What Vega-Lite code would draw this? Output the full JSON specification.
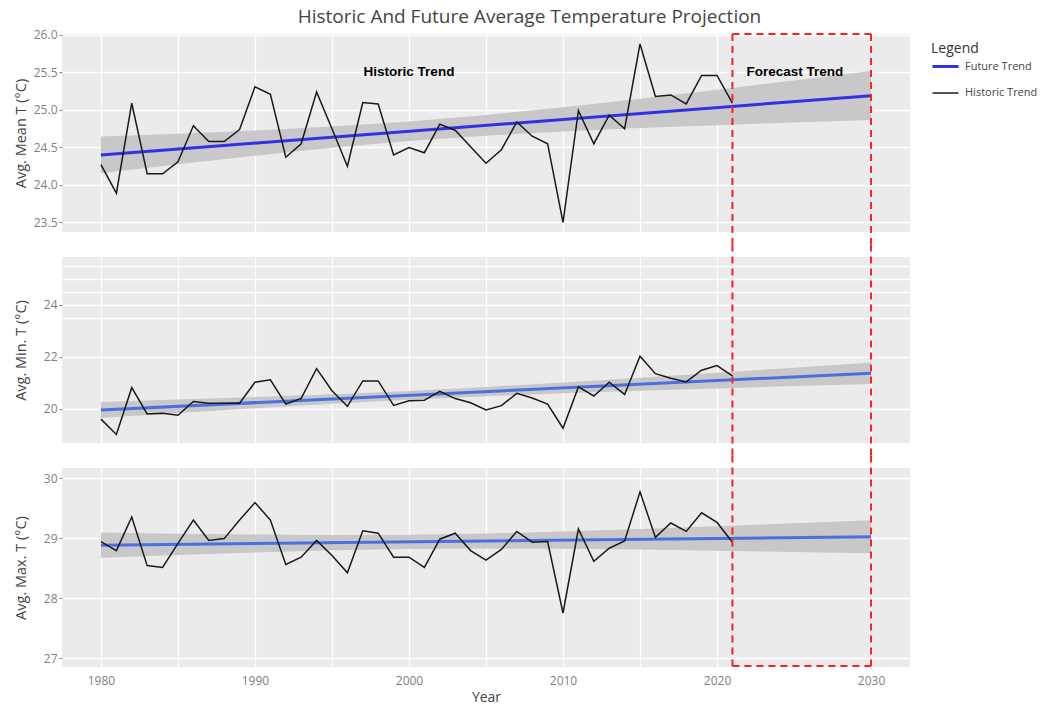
{
  "$schema": "https://vega.github.io/schema/vega-lite/v6.json",
  "padding": {"left": 13, "top": 7, "right": 10, "bottom": 0},
  "title": {"text": "Historic And Future Average Temperature Projection", "fontSize": 19, "font": "Open Sans", "fontWeight": "normal", "color": "#444444", "anchor": "middle", "frame": "bounds", "offset": 2},
  "spacing": 25,
  "bounds": "flush",
  "datasets": {
    "hist": [
      {"year": 1980, "mean": 24.27, "tmin": 19.61, "tmax": 28.94, "series": "Historic Trend"},
      {"year": 1981, "mean": 23.89, "tmin": 19.02, "tmax": 28.79, "series": "Historic Trend"},
      {"year": 1982, "mean": 25.09, "tmin": 20.82, "tmax": 29.35, "series": "Historic Trend"},
      {"year": 1983, "mean": 24.15, "tmin": 19.81, "tmax": 28.54, "series": "Historic Trend"},
      {"year": 1984, "mean": 24.15, "tmin": 19.84, "tmax": 28.51, "series": "Historic Trend"},
      {"year": 1985, "mean": 24.31, "tmin": 19.76, "tmax": 28.91, "series": "Historic Trend"},
      {"year": 1986, "mean": 24.79, "tmin": 20.29, "tmax": 29.30, "series": "Historic Trend"},
      {"year": 1987, "mean": 24.58, "tmin": 20.22, "tmax": 28.96, "series": "Historic Trend"},
      {"year": 1988, "mean": 24.58, "tmin": 20.22, "tmax": 28.99, "series": "Historic Trend"},
      {"year": 1989, "mean": 24.74, "tmin": 20.22, "tmax": 29.30, "series": "Historic Trend"},
      {"year": 1990, "mean": 25.31, "tmin": 21.03, "tmax": 29.59, "series": "Historic Trend"},
      {"year": 1991, "mean": 25.21, "tmin": 21.12, "tmax": 29.30, "series": "Historic Trend"},
      {"year": 1992, "mean": 24.37, "tmin": 20.19, "tmax": 28.56, "series": "Historic Trend"},
      {"year": 1993, "mean": 24.55, "tmin": 20.41, "tmax": 28.68, "series": "Historic Trend"},
      {"year": 1994, "mean": 25.24, "tmin": 21.55, "tmax": 28.96, "series": "Historic Trend"},
      {"year": 1995, "mean": 24.75, "tmin": 20.70, "tmax": 28.71, "series": "Historic Trend"},
      {"year": 1996, "mean": 24.25, "tmin": 20.10, "tmax": 28.42, "series": "Historic Trend"},
      {"year": 1997, "mean": 25.10, "tmin": 21.08, "tmax": 29.12, "series": "Historic Trend"},
      {"year": 1998, "mean": 25.08, "tmin": 21.08, "tmax": 29.08, "series": "Historic Trend"},
      {"year": 1999, "mean": 24.40, "tmin": 20.14, "tmax": 28.68, "series": "Historic Trend"},
      {"year": 2000, "mean": 24.50, "tmin": 20.32, "tmax": 28.68, "series": "Historic Trend"},
      {"year": 2001, "mean": 24.43, "tmin": 20.34, "tmax": 28.51, "series": "Historic Trend"},
      {"year": 2002, "mean": 24.81, "tmin": 20.68, "tmax": 28.98, "series": "Historic Trend"},
      {"year": 2003, "mean": 24.73, "tmin": 20.40, "tmax": 29.08, "series": "Historic Trend"},
      {"year": 2004, "mean": 24.51, "tmin": 20.24, "tmax": 28.79, "series": "Historic Trend"},
      {"year": 2005, "mean": 24.29, "tmin": 19.96, "tmax": 28.63, "series": "Historic Trend"},
      {"year": 2006, "mean": 24.47, "tmin": 20.13, "tmax": 28.81, "series": "Historic Trend"},
      {"year": 2007, "mean": 24.84, "tmin": 20.60, "tmax": 29.11, "series": "Historic Trend"},
      {"year": 2008, "mean": 24.65, "tmin": 20.42, "tmax": 28.93, "series": "Historic Trend"},
      {"year": 2009, "mean": 24.55, "tmin": 20.19, "tmax": 28.94, "series": "Historic Trend"},
      {"year": 2010, "mean": 23.50, "tmin": 19.26, "tmax": 27.75, "series": "Historic Trend"},
      {"year": 2011, "mean": 24.99, "tmin": 20.85, "tmax": 29.15, "series": "Historic Trend"},
      {"year": 2012, "mean": 24.55, "tmin": 20.50, "tmax": 28.61, "series": "Historic Trend"},
      {"year": 2013, "mean": 24.93, "tmin": 21.03, "tmax": 28.83, "series": "Historic Trend"},
      {"year": 2014, "mean": 24.75, "tmin": 20.56, "tmax": 28.95, "series": "Historic Trend"},
      {"year": 2015, "mean": 25.88, "tmin": 22.03, "tmax": 29.77, "series": "Historic Trend"},
      {"year": 2016, "mean": 25.18, "tmin": 21.36, "tmax": 29.01, "series": "Historic Trend"},
      {"year": 2017, "mean": 25.20, "tmin": 21.18, "tmax": 29.25, "series": "Historic Trend"},
      {"year": 2018, "mean": 25.08, "tmin": 21.04, "tmax": 29.11, "series": "Historic Trend"},
      {"year": 2019, "mean": 25.46, "tmin": 21.49, "tmax": 29.42, "series": "Historic Trend"},
      {"year": 2020, "mean": 25.46, "tmin": 21.67, "tmax": 29.26, "series": "Historic Trend"},
      {"year": 2021, "mean": 25.09, "tmin": 21.27, "tmax": 28.93, "series": "Historic Trend"}
    ],
    "trend": [
      {"year": 1980, "mean": 24.40, "tmin": 19.96, "tmax": 28.88, "series": "Future Trend"},
      {"year": 2030, "mean": 25.19, "tmin": 21.375, "tmax": 29.02, "series": "Future Trend"}
    ],
    "band": [
      {"year": 1980, "mean_lo": 24.155, "mean_hi": 24.645, "min_lo": 19.65, "min_hi": 20.27, "max_lo": 28.67, "max_hi": 29.09},
      {"year": 1985, "mean_lo": 24.275, "mean_hi": 24.683, "min_lo": 19.843, "min_hi": 20.361, "max_lo": 28.717, "max_hi": 29.071},
      {"year": 1990, "mean_lo": 24.391, "mean_hi": 24.727, "min_lo": 20.027, "min_hi": 20.459, "max_lo": 28.759, "max_hi": 29.057},
      {"year": 1995, "mean_lo": 24.497, "mean_hi": 24.779, "min_lo": 20.201, "min_hi": 20.569, "max_lo": 28.794, "max_hi": 29.05},
      {"year": 2000, "mean_lo": 24.587, "mean_hi": 24.847, "min_lo": 20.356, "min_hi": 20.696, "max_lo": 28.816, "max_hi": 29.056},
      {"year": 2005, "mean_lo": 24.658, "mean_hi": 24.934, "min_lo": 20.489, "min_hi": 20.847, "max_lo": 28.824, "max_hi": 29.076},
      {"year": 2010, "mean_lo": 24.714, "mean_hi": 25.038, "min_lo": 20.601, "min_hi": 21.017, "max_lo": 28.82, "max_hi": 29.108},
      {"year": 2015, "mean_lo": 24.759, "mean_hi": 25.151, "min_lo": 20.701, "min_hi": 21.201, "max_lo": 28.807, "max_hi": 29.149},
      {"year": 2020, "mean_lo": 24.798, "mean_hi": 25.27, "min_lo": 20.792, "min_hi": 21.392, "max_lo": 28.789, "max_hi": 29.195},
      {"year": 2025, "mean_lo": 24.833, "mean_hi": 25.393, "min_lo": 20.881, "min_hi": 21.587, "max_lo": 28.768, "max_hi": 29.244},
      {"year": 2030, "mean_lo": 24.867, "mean_hi": 25.519, "min_lo": 20.965, "min_hi": 21.785, "max_lo": 28.745, "max_hi": 29.295}
    ],
    "notes": [
      {"x": 2000, "y": 25.51, "label": "Historic Trend"},
      {"x": 2025.06, "y": 25.51, "label": "Forecast Trend"}
    ],
    "edges": [{"year": 2021}, {"year": 2030}],
    "box": [{"start": 2021, "end": 2030}]
  },
  "vconcat": [
    {
      "width": 848,
      "height": 198,
      "layer": [
        {
          "data": {"name": "band"},
          "mark": {"type": "area", "color": "#C8C8C8"},
          "encoding": {
            "x": {"field": "year", "type": "quantitative", "scale": {"domain": [1977.47, 2032.53], "nice": false, "zero": false}, "axis": {"values": [1980, 1985, 1990, 1995, 2000, 2005, 2010, 2015, 2020, 2030], "tickCount": 30, "labels": false, "ticks": false, "title": null}},
            "y": {"field": "mean_lo", "type": "quantitative", "scale": {"domain": [23.373, 26.013], "nice": false, "zero": false}, "axis": {"values": [23.5, 24, 24.5, 25, 25.5, 26], "tickCount": 20, "format": ".1f", "labelOverlap": false, "labelBound": false, "title": "Avg. Mean T (°C)", "titleX": -34}},
            "y2": {"field": "mean_hi"}
          }
        },
        {
          "data": {"name": "trend"},
          "mark": {"type": "line"},
          "encoding": {
            "x": {"field": "year", "type": "quantitative"},
            "y": {"field": "mean", "type": "quantitative"},
            "color": {"field": "series", "type": "nominal", "scale": {"domain": ["Future Trend", "Historic Trend"], "range": ["#3030E4", "#1A1A1A"]}, "legend": {"title": "Legend"}},
            "strokeWidth": {"field": "series", "type": "nominal", "scale": {"domain": ["Future Trend", "Historic Trend"], "range": [3, 1.5]}, "legend": {"title": "Legend"}}
          }
        },
        {
          "data": {"name": "hist"},
          "mark": {"type": "line"},
          "encoding": {
            "x": {"field": "year", "type": "quantitative"},
            "y": {"field": "mean", "type": "quantitative"},
            "color": {"field": "series", "type": "nominal", "scale": {"domain": ["Future Trend", "Historic Trend"], "range": ["#3030E4", "#1A1A1A"]}, "legend": {"title": "Legend"}},
            "strokeWidth": {"field": "series", "type": "nominal", "scale": {"domain": ["Future Trend", "Historic Trend"], "range": [3, 1.5]}, "legend": {"title": "Legend"}}
          }
        },
        {
          "data": {"name": "notes"},
          "mark": {"type": "text", "font": "Liberation Sans", "fontWeight": "bold", "fontSize": 13.5, "color": "#000000"},
          "encoding": {
            "x": {"field": "x", "type": "quantitative"},
            "y": {"field": "y", "type": "quantitative"},
            "text": {"field": "label"}
          }
        },
        {
          "data": {"name": "edges"},
          "mark": {"type": "rule", "color": "#F42424", "strokeWidth": 2, "strokeDash": [7, 5]},
          "encoding": {
            "x": {"field": "year", "type": "quantitative"},
            "y": {"datum": 26.013},
            "y2": {"datum": 23.206}
          }
        },
        {
          "data": {"name": "box"},
          "mark": {"type": "rule", "color": "#F42424", "strokeWidth": 2, "strokeDash": [7, 5]},
          "encoding": {
            "x": {"field": "start", "type": "quantitative"},
            "x2": {"field": "end"},
            "y": {"datum": 26.013}
          }
        }
      ]
    },
    {
      "width": 848,
      "height": 186,
      "layer": [
        {
          "data": {"name": "band"},
          "mark": {"type": "area", "color": "#C8C8C8"},
          "encoding": {
            "x": {"field": "year", "type": "quantitative", "scale": {"domain": [1977.47, 2032.53], "nice": false, "zero": false}, "axis": {"values": [1980, 1985, 1990, 1995, 2000, 2005, 2010, 2015, 2020, 2030], "tickCount": 30, "labels": false, "ticks": false, "title": null}},
            "y": {"field": "min_lo", "type": "quantitative", "scale": {"domain": [18.692, 25.846], "nice": false, "zero": false}, "axis": {"values": [20, 22, 23.5, 24, 24.5, 25, 25.5], "tickCount": 20, "format": "d", "labelOverlap": false, "labelBound": false, "labelExpr": "datum.value == 20 || datum.value == 22 || datum.value == 24 ? datum.label : ''", "tickOpacity": {"condition": {"test": "datum.value == 20 || datum.value == 22 || datum.value == 24", "value": 1}, "value": 0}, "title": "Avg. Min. T (°C)", "titleX": -34}},
            "y2": {"field": "min_hi"}
          }
        },
        {
          "data": {"name": "trend"},
          "mark": {"type": "line", "color": "#4A6FE3", "strokeWidth": 3},
          "encoding": {
            "x": {"field": "year", "type": "quantitative"},
            "y": {"field": "tmin", "type": "quantitative"}
          }
        },
        {
          "data": {"name": "hist"},
          "mark": {"type": "line", "color": "#1A1A1A", "strokeWidth": 1.5},
          "encoding": {
            "x": {"field": "year", "type": "quantitative"},
            "y": {"field": "tmin", "type": "quantitative"}
          }
        },
        {
          "data": {"name": "edges"},
          "mark": {"type": "rule", "color": "#F42424", "strokeWidth": 2, "strokeDash": [7, 5]},
          "encoding": {
            "x": {"field": "year", "type": "quantitative"},
            "y": {"datum": 26.33},
            "y2": {"datum": 18.21}
          }
        }
      ]
    },
    {
      "width": 848,
      "height": 199,
      "layer": [
        {
          "data": {"name": "band"},
          "mark": {"type": "area", "color": "#C8C8C8"},
          "encoding": {
            "x": {"field": "year", "type": "quantitative", "scale": {"domain": [1977.47, 2032.53], "nice": false, "zero": false}, "axis": {"values": [1980, 1985, 1990, 1995, 2000, 2005, 2010, 2015, 2020, 2030], "tickCount": 30, "format": "d", "labelOverlap": false, "labelExpr": "datum.value % 10 === 0 ? datum.label : ''", "ticks": false, "labelPadding": 8, "title": "Year", "titlePadding": 4, "titleFontSize": 14}},
            "y": {"field": "max_lo", "type": "quantitative", "scale": {"domain": [26.85, 30.167], "nice": false, "zero": false}, "axis": {"values": [27, 28, 29, 30], "tickCount": 20, "format": "d", "labelOverlap": false, "title": "Avg. Max. T (°C)", "titleX": -34}},
            "y2": {"field": "max_hi"}
          }
        },
        {
          "data": {"name": "trend"},
          "mark": {"type": "line", "color": "#4A6FE3", "strokeWidth": 3},
          "encoding": {
            "x": {"field": "year", "type": "quantitative"},
            "y": {"field": "tmax", "type": "quantitative"}
          }
        },
        {
          "data": {"name": "hist"},
          "mark": {"type": "line", "color": "#1A1A1A", "strokeWidth": 1.5},
          "encoding": {
            "x": {"field": "year", "type": "quantitative"},
            "y": {"field": "tmax", "type": "quantitative"}
          }
        },
        {
          "data": {"name": "edges"},
          "mark": {"type": "rule", "color": "#F42424", "strokeWidth": 2, "strokeDash": [7, 5]},
          "encoding": {
            "x": {"field": "year", "type": "quantitative"},
            "y": {"datum": 30.375},
            "y2": {"datum": 26.867}
          }
        },
        {
          "data": {"name": "box"},
          "mark": {"type": "rule", "color": "#F42424", "strokeWidth": 2, "strokeDash": [7, 5]},
          "encoding": {
            "x": {"field": "start", "type": "quantitative"},
            "x2": {"field": "end"},
            "y": {"datum": 26.867}
          }
        }
      ]
    }
  ],
  "config": {
    "font": "Open Sans",
    "view": {"fill": "#EBEBEB", "stroke": null},
    "axis": {"domain": false, "gridColor": "#FFFFFF", "gridWidth": 1.3, "tickColor": "#8A8A8A", "tickSize": 3, "labelColor": "#7F7F7F", "labelFontSize": 12, "labelFont": "Open Sans", "labelPadding": 2, "labelOverlap": false, "labelFlush": false, "titleColor": "#444444", "titleFontSize": 14.5, "titleFontWeight": "normal", "titleFont": "Open Sans"},
    "legend": {"titleFontSize": 14, "titleFontWeight": "normal", "titleColor": "#333333", "titleFont": "Open Sans", "labelFontSize": 11, "labelColor": "#444444", "labelFont": "Open Sans", "symbolType": "stroke", "symbolSize": 676, "offset": 13, "padding": 8, "titlePadding": -4, "labelOffset": 5, "rowPadding": 6}
  }
}
